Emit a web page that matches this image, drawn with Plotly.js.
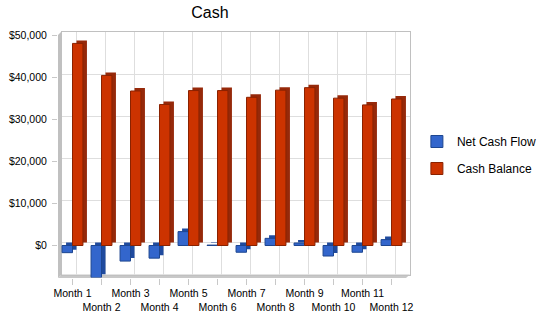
<!DOCTYPE html>
<html><head><meta charset="utf-8">
<script src="https://cdn.plot.ly/plotly-3.0.1.min.js"></script>
<style>html,body{margin:0;padding:0;background:#fff}#chart{width:550px;height:318px}</style>
</head><body><div id="chart"></div>
<script>
const months = ["Month 1","Month 2","Month 3","Month 4","Month 5","Month 6","Month 7","Month 8","Month 9","Month 10","Month 11","Month 12"];
const netCashFlow = [-1700,-7600,-3700,-3000,3300,100,-1600,1700,600,-2500,-1600,1400];
const cashBalance = [48000,40400,36700,33500,36800,36800,35200,36900,37500,35000,33400,34800];
const seriesNames = ["Net Cash Flow","Cash Balance"];
const yTicks = [0,10000,20000,30000,40000,50000];
const yTickLabels = ["$0","$10,000","$20,000","$30,000","$40,000","$50,000"];

const W = 550, H = 318;
const px = x => x / W, py = y => 1 - y / H;
const yRange = [-7600, 50000];
const font = "Liberation Sans, Arial, sans-serif";

const frontColors = ["#3366cc", "#cc3300"];
const sideColors = ["#1f4a9e", "#96290a"];
const lineColors = ["#1d4690", "#8a2200"];

const tickText = months.map((m, i) => i % 2 ? "<br>" + m : m);

const traces = [];
// back (depth) faces on back-plane axes
[netCashFlow, cashBalance].forEach((vals, k) => {
  traces.push({type: "bar", x: months, y: vals, xaxis: "x", yaxis: "y",
    marker: {color: sideColors[k], line: {width: 0}}, showlegend: false, hoverinfo: "skip"});
});
// front faces
[netCashFlow, cashBalance].forEach((vals, k) => {
  traces.push({type: "bar", name: seriesNames[k], x: months, y: vals, xaxis: "x2", yaxis: "y2",
    legendgroup: "g" + k,
    marker: {color: frontColors[k], line: {width: 1, color: lineColors[k]}}, hoverinfo: "skip"});
});

const layout = {
  width: W, height: H,
  margin: {l: 0, r: 0, t: 0, b: 0},
  paper_bgcolor: "#ffffff", plot_bgcolor: "rgba(0,0,0,0)",
  font: {family: font, size: 10.5, color: "#000"},
  title: {text: "Cash", font: {family: font, size: 16, color: "#000"}, x: 210 / W, xanchor: "center", y: py(12), yanchor: "middle"},
  barmode: "group", bargap: 0.28, bargroupgap: 0,
  showlegend: true,
  legend: {x: 0.758, y: py(127), xanchor: "left", yanchor: "top", font: {family: font, size: 12},
    traceorder: "grouped", tracegroupgap: 8, bgcolor: "rgba(0,0,0,0)"},
  // back plane
  xaxis: {domain: [px(62), px(410)], type: "category", range: [-0.5, 11.5], anchor: "y",
    showgrid: true, gridcolor: "#dedede", showline: true, mirror: true, linecolor: "#c0c0c0",
    showticklabels: false, ticks: "", fixedrange: true},
  yaxis: {domain: [py(274.5), py(32)], range: yRange, anchor: "x",
    tickvals: yTicks, showgrid: true, gridcolor: "#dedede", zeroline: false,
    showline: true, mirror: true, linecolor: "#c0c0c0", showticklabels: false, ticks: "", fixedrange: true},
  // front plane
  xaxis2: {domain: [px(58), px(406)], type: "category", range: [-0.5, 11.5], anchor: "y2",
    tickvals: months, ticktext: tickText, tickangle: 0, ticks: "outside", ticklen: 6, tickcolor: "#c8c8c8",
    showgrid: false, showline: false, fixedrange: true, tickfont: {family: font, size: 10.5}},
  yaxis2: {domain: [py(277.5), py(35)], range: yRange, anchor: "x2",
    tickvals: yTicks, ticktext: yTickLabels, ticks: "outside", ticklen: 5, tickcolor: "#c8c8c8",
    ticklabelstandoff: 3,
    showgrid: false, zeroline: false, showline: false, fixedrange: true, tickfont: {family: font, size: 10.5}},
  shapes: [
    {type: "path", xref: "paper", yref: "paper", layer: "below", line: {width: 0}, fillcolor: "#c0c0c0",
      path: `M${px(58)},${py(35)} L${px(62)},${py(31)} L${px(62)},${py(274.5)} L${px(58)},${py(278)} Z`},
    {type: "path", xref: "paper", yref: "paper", layer: "below", line: {width: 0}, fillcolor: "#c8c8c8",
      path: `M${px(58)},${py(278)} L${px(62)},${py(274.5)} L${px(410)},${py(274.5)} L${px(406)},${py(278)} Z`}
  ]
};
Plotly.newPlot("chart", traces, layout, {displayModeBar: false, staticPlot: true});
</script></body></html>
